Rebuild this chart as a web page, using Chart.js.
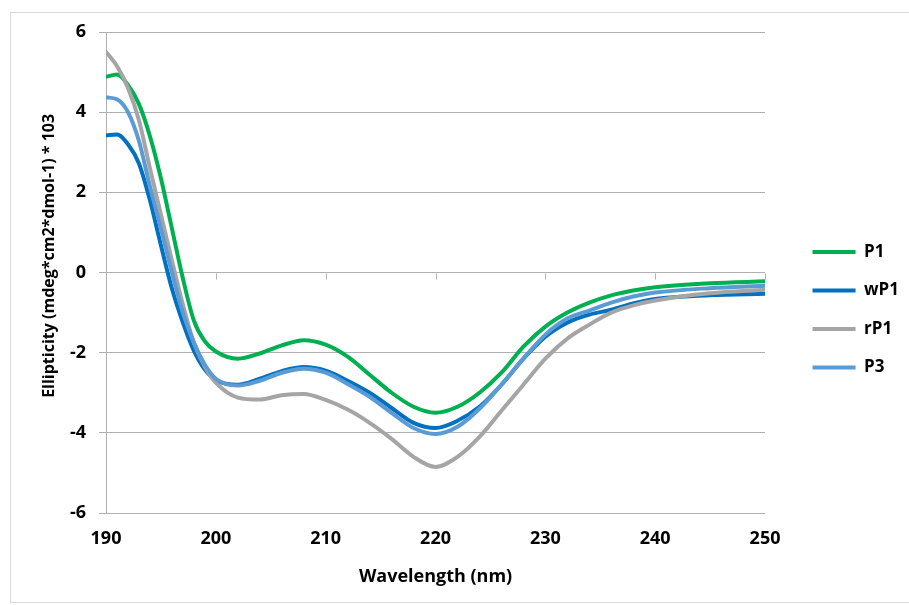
<!DOCTYPE html>
<html lang="en">
<head>
    <meta charset="UTF-8">
    <title>CD spectra</title>
    <script src="https://cdn.jsdelivr.net/npm/chart.js"></script>
    <style>
        html, body { margin: 0; padding: 0; background: #fff; }
        #wrap { position: relative; width: 909px; height: 605px; }
        #frame { position: absolute; left: 10px; top: 12px; width: 905px; height: 589px; border: 1px solid #d9d9d9; }
        #chart { position: absolute; left: 0; top: 0; }
    </style>
</head>
<body>
<div id="wrap">
    <div id="frame"></div>
    <canvas id="chart" width="909" height="605"></canvas>
</div>
<script>
// wavelength (nm)
const wavelengths = [190, 191, 192, 193, 194, 195, 196, 197, 198, 199, 200,
    202, 204, 206, 208, 210, 212, 214, 216, 218, 220, 222, 224, 226, 228,
    230, 232, 234, 236, 238, 240, 245, 250];

const seriesNames = ['P1', 'wP1', 'rP1', 'P3'];
const seriesColors = ['#00B050', '#0070C0', '#A5A5A5', '#5B9BD5'];

// ellipticity values
const p1 = [4.88, 4.94, 4.68, 4.2, 3.4, 2.35, 1.1, -0.15, -1.2, -1.72, -1.97,
    -2.15, -2.02, -1.82, -1.69, -1.8, -2.1, -2.55, -3.0, -3.35, -3.5, -3.35, -3.0, -2.5, -1.85,
    -1.35, -1.0, -0.75, -0.57, -0.45, -0.37, -0.27, -0.22];
const wp1 = [3.42, 3.44, 3.2, 2.72, 1.8, 0.68, -0.4, -1.25, -1.95, -2.42, -2.68,
    -2.8, -2.65, -2.46, -2.36, -2.45, -2.7, -3.0, -3.38, -3.75, -3.88, -3.7, -3.35, -2.8, -2.15,
    -1.6, -1.25, -1.05, -0.93, -0.77, -0.66, -0.57, -0.53];
const rp1 = [5.51, 5.15, 4.6, 3.8, 2.6, 1.45, 0.3, -0.8, -1.75, -2.35, -2.75,
    -3.12, -3.17, -3.06, -3.03, -3.18, -3.42, -3.75, -4.15, -4.6, -4.85, -4.6, -4.1, -3.45, -2.8,
    -2.15, -1.65, -1.3, -1.0, -0.82, -0.7, -0.52, -0.43];
const p3 = [4.37, 4.32, 4.0, 3.28, 2.15, 1.1, 0.0, -1.0, -1.75, -2.3, -2.65,
    -2.82, -2.7, -2.5, -2.4, -2.5, -2.78, -3.1, -3.5, -3.88, -4.03, -3.85, -3.4, -2.8, -2.15,
    -1.55, -1.15, -0.95, -0.75, -0.6, -0.5, -0.39, -0.33];

const allSeries = [p1, wp1, rp1, p3];

Chart.defaults.font.family = '"Open Sans", Lato, "DejaVu Sans", sans-serif';
Chart.defaults.font.weight = 'bold';
Chart.defaults.color = '#000';

const gridColor = '#b0b0b0';

// small tick marks sitting on the zero line, as in the original
const zeroTicks = {
    id: 'zeroTicks',
    beforeDatasetsDraw(chart) {
        const xs = chart.scales.x, ys = chart.scales.y;
        const y0 = Math.round(ys.getPixelForValue(0)) + 0.5;
        const c = chart.ctx;
        c.save();
        c.strokeStyle = gridColor;
        c.lineWidth = 1;
        xs.ticks.forEach(t => {
            const x = Math.round(xs.getPixelForValue(t.value)) + 0.5;
            c.beginPath();
            c.moveTo(x, y0);
            c.lineTo(x, y0 + 6);
            c.stroke();
        });
        c.restore();
    }
};

const datasets = seriesNames.map((name, i) => ({
    label: name,
    data: wavelengths.map((w, k) => ({ x: w, y: allSeries[i][k] })),
    borderColor: seriesColors[i],
    backgroundColor: seriesColors[i],
    borderWidth: 4,
    pointRadius: 0,
    cubicInterpolationMode: 'monotone',
    order: seriesNames.length - i
}));

new Chart(document.getElementById('chart'), {
    type: 'line',
    data: { datasets },
    plugins: [zeroTicks],
    options: {
        responsive: false,
        animation: false,
        layout: { padding: { top: 32, right: 0, bottom: 17.5, left: 0 } },
        plugins: {
            tooltip: { enabled: false },
            legend: {
                position: 'right',
                labels: {
                    boxWidth: 43,
                    boxHeight: 4,
                    padding: 21.5,
                    font: { size: 17, weight: 'bold' },
                    sort: (a, b) => a.datasetIndex - b.datasetIndex,
                    generateLabels(chart) {
                        const items = Chart.defaults.plugins.legend.labels.generateLabels(chart);
                        items.forEach(it => { it.lineWidth = 0; });
                        return items;
                    }
                }
            }
        },
        scales: {
            x: {
                type: 'linear',
                min: 190,
                max: 250,
                ticks: { stepSize: 10, padding: 15, font: { size: 18 } },
                grid: { display: false, drawTicks: false },
                border: { display: false },
                title: {
                    display: true,
                    text: 'Wavelength (nm)',
                    font: { size: 18, weight: 'bold' },
                    padding: { top: 0, bottom: 0 }
                },
                afterFit(s) { s.height = 74.5; }
            },
            y: {
                min: -6,
                max: 6,
                ticks: { stepSize: 2, padding: 13, font: { size: 18 } },
                grid: { color: gridColor, tickLength: 7 },
                border: { display: true, color: gridColor },
                title: {
                    display: true,
                    // leading spaces nudge the label up, like the original
                    text: '        Ellipticity (mdeg*cm2*dmol-1) * 103',
                    font: { size: 16, weight: 'bold' },
                    padding: { top: 40, bottom: 0 }
                },
                afterFit(s) { s.width = 106; }
            },
            gap: {
                type: 'linear',
                position: 'right',
                display: true,
                grid: { display: false, drawTicks: false },
                border: { display: false },
                ticks: { display: false },
                afterFit(s) { s.width = 26; }
            }
        }
    }
});
</script>
</body>
</html>
